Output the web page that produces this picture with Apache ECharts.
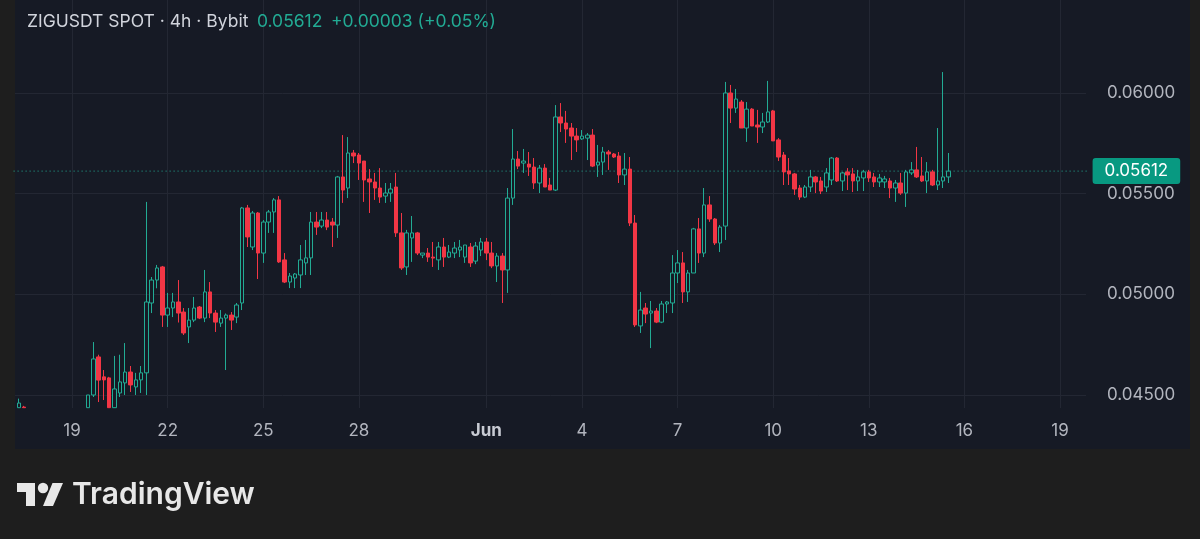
<!DOCTYPE html>
<html>
<head>
<meta charset="utf-8">
<title>ZIGUSDT SPOT 4h</title>
<script src="https://cdn.jsdelivr.net/npm/echarts@6/dist/echarts.min.js"></script>
<style>
  html, body { margin: 0; padding: 0; background: #1e1e1e; }
  #chart { width: 1200px; height: 539px; }
</style>
</head>
<body>
<div id="chart"></div>
<script>
// 4h candles, slot 0 = 2025-05-17 00:00, first value below belongs to slot 2
const firstSlot = 2
const opens = [
  0.04437, 0.04440, null, null, null, null, null, null, null, null, null, null, null,
  0.04437, 0.04500, 0.04689, 0.04590, 0.04585, 0.04437, 0.04510, 0.04560, 0.04614, 0.04540,
  0.04575, 0.04610, 0.04957, 0.05071, 0.05136, 0.04897, 0.04932, 0.04962, 0.04912, 0.04838,
  0.04872, 0.04937, 0.04882, 0.05012, 0.04907, 0.04857, 0.04882, 0.04897, 0.04887, 0.04957,
  0.05429, 0.05235, 0.05404, 0.05205, 0.05359, 0.05409, 0.05469, 0.05171, 0.05061, 0.05081,
  0.05096, 0.05156, 0.05181, 0.05359, 0.05339, 0.05369, 0.05359, 0.05344, 0.05583, 0.05528,
  0.05702, 0.05692, 0.05662, 0.05573, 0.05558, 0.05528, 0.05488, 0.05503, 0.05533, 0.05305,
  0.05136, 0.05280, 0.05305, 0.05195, 0.05205, 0.05185, 0.05171, 0.05235, 0.05185, 0.05205,
  0.05220, 0.05185, 0.05235, 0.05165, 0.05220, 0.05260, 0.05205, 0.05141, 0.05190, 0.05121,
  0.05478, 0.05672, 0.05652, 0.05647, 0.05632, 0.05553, 0.05627, 0.05543, 0.05518, 0.05881,
  0.05851, 0.05826, 0.05786, 0.05772, 0.05776, 0.05791, 0.05642, 0.05657, 0.05707, 0.05697,
  0.05687, 0.05593, 0.05622, 0.05354, 0.04843, 0.04932, 0.04907, 0.04917, 0.04862, 0.04952,
  0.04957, 0.05106, 0.05156, 0.05012, 0.05106, 0.05325, 0.05205, 0.05444, 0.05374, 0.05255,
  0.05339, 0.06000, 0.05925, 0.05955, 0.05826, 0.05920, 0.05841, 0.05831, 0.05856, 0.05911,
  0.05767, 0.05692, 0.05613, 0.05598, 0.05528, 0.05483, 0.05533, 0.05583, 0.05563, 0.05533,
  0.05568, 0.05677, 0.05563, 0.05608, 0.05598, 0.05563, 0.05578, 0.05608, 0.05583, 0.05558,
  0.05558, 0.05563, 0.05528, 0.05553, 0.05503, 0.05603, 0.05618, 0.05588, 0.05563, 0.05608,
  0.05543, 0.05563, 0.05583
]
const highs = [
  0.04482, 0.04446, null, null, null, null, null, null, null, null, null, null, null,
  0.04500, 0.04763, 0.04700, 0.04624, 0.04590, 0.04694, 0.04700, 0.04758, 0.04644, 0.04610,
  0.04644, 0.05459, 0.05086, 0.05146, 0.05141, 0.05007, 0.05007, 0.05071, 0.04932, 0.04932,
  0.04987, 0.04942, 0.05121, 0.05061, 0.04922, 0.04922, 0.04905, 0.04912, 0.04957, 0.05434,
  0.05444, 0.05414, 0.05409, 0.05369, 0.05419, 0.05478, 0.05488, 0.05205, 0.05106, 0.05106,
  0.05245, 0.05270, 0.05409, 0.05409, 0.05409, 0.05409, 0.05379, 0.05588, 0.05791, 0.05781,
  0.05717, 0.05702, 0.05662, 0.05622, 0.05603, 0.05627, 0.05553, 0.05553, 0.05603, 0.05404,
  0.05320, 0.05389, 0.05310, 0.05205, 0.05230, 0.05260, 0.05260, 0.05280, 0.05245, 0.05260,
  0.05270, 0.05245, 0.05255, 0.05260, 0.05280, 0.05280, 0.05260, 0.05205, 0.05205, 0.05528,
  0.05821, 0.05712, 0.05722, 0.05707, 0.05677, 0.05642, 0.05647, 0.05578, 0.05940, 0.05950,
  0.05911, 0.05851, 0.05826, 0.05816, 0.05801, 0.05821, 0.05742, 0.05732, 0.05717, 0.05702,
  0.05707, 0.05702, 0.05682, 0.05394, 0.05012, 0.04957, 0.04967, 0.04932, 0.04967, 0.04967,
  0.05195, 0.05220, 0.05210, 0.05121, 0.05330, 0.05379, 0.05528, 0.05488, 0.05379, 0.05344,
  0.06055, 0.06040, 0.06020, 0.05965, 0.05955, 0.05925, 0.05916, 0.05901, 0.06060, 0.05916,
  0.05776, 0.05707, 0.05677, 0.05603, 0.05543, 0.05543, 0.05618, 0.05588, 0.05583, 0.05627,
  0.05682, 0.05682, 0.05608, 0.05627, 0.05627, 0.05618, 0.05618, 0.05618, 0.05603, 0.05598,
  0.05588, 0.05578, 0.05568, 0.05603, 0.05618, 0.05657, 0.05732, 0.05682, 0.05657, 0.05618,
  0.05826, 0.06104, 0.05702
]
const lows = [
  0.04436, 0.04436, null, null, null, null, null, null, null, null, null, null, null,
  0.04436, 0.04490, 0.04465, 0.04475, 0.04436, 0.04436, 0.04490, 0.04500, 0.04515, 0.04500,
  0.04510, 0.04500, 0.04907, 0.05030, 0.04838, 0.04838, 0.04887, 0.04860, 0.04798, 0.04758,
  0.04862, 0.04877, 0.04862, 0.04882, 0.04813, 0.04838, 0.04624, 0.04823, 0.04857, 0.04922,
  0.05235, 0.05220, 0.05076, 0.05156, 0.05305, 0.05305, 0.05156, 0.05056, 0.05031, 0.05031,
  0.05031, 0.05096, 0.05096, 0.05295, 0.05329, 0.05319, 0.05235, 0.05280, 0.05454, 0.05478,
  0.05652, 0.05568, 0.05459, 0.05404, 0.05469, 0.05454, 0.05454, 0.05459, 0.05285, 0.05121,
  0.05096, 0.05161, 0.05195, 0.05180, 0.05161, 0.05136, 0.05121, 0.05136, 0.05180, 0.05180,
  0.05185, 0.05156, 0.05136, 0.05150, 0.05190, 0.05170, 0.05130, 0.05061, 0.04957, 0.05007,
  0.05444, 0.05622, 0.05603, 0.05588, 0.05523, 0.05503, 0.05533, 0.05518, 0.05513, 0.05806,
  0.05752, 0.05667, 0.05707, 0.05767, 0.05667, 0.05632, 0.05583, 0.05593, 0.05618, 0.05677,
  0.05553, 0.05543, 0.05339, 0.04838, 0.04808, 0.04857, 0.04733, 0.04857, 0.04857, 0.04907,
  0.04907, 0.05056, 0.04957, 0.04962, 0.05106, 0.05156, 0.05185, 0.05360, 0.05245, 0.05210,
  0.05270, 0.05851, 0.05901, 0.05826, 0.05757, 0.05836, 0.05752, 0.05801, 0.05851, 0.05762,
  0.05662, 0.05543, 0.05543, 0.05494, 0.05469, 0.05478, 0.05508, 0.05503, 0.05498, 0.05508,
  0.05543, 0.05558, 0.05513, 0.05518, 0.05508, 0.05513, 0.05513, 0.05558, 0.05533, 0.05533,
  0.05528, 0.05478, 0.05459, 0.05494, 0.05434, 0.05593, 0.05578, 0.05558, 0.05503, 0.05538,
  0.05518, 0.05528, 0.05553
]
const closes = [
  0.04460, 0.04437, null, null, null, null, null, null, null, null, null, null, null,
  0.04500, 0.04679, 0.04574, 0.04575, 0.04437, 0.04530, 0.04565, 0.04614, 0.04550, 0.04575,
  0.04610, 0.04962, 0.05071, 0.05131, 0.04897, 0.04932, 0.04962, 0.04907, 0.04808, 0.04872,
  0.04932, 0.04882, 0.05012, 0.04907, 0.04862, 0.04882, 0.04897, 0.04872, 0.04947, 0.05429,
  0.05285, 0.05404, 0.05205, 0.05359, 0.05409, 0.05469, 0.05161, 0.05061, 0.05091, 0.05101,
  0.05171, 0.05181, 0.05359, 0.05334, 0.05369, 0.05334, 0.05344, 0.05583, 0.05518, 0.05702,
  0.05687, 0.05652, 0.05568, 0.05558, 0.05528, 0.05483, 0.05503, 0.05523, 0.05305, 0.05131,
  0.05305, 0.05305, 0.05205, 0.05205, 0.05185, 0.05180, 0.05235, 0.05185, 0.05210, 0.05230,
  0.05235, 0.05245, 0.05156, 0.05240, 0.05260, 0.05205, 0.05141, 0.05190, 0.05121, 0.05478,
  0.05672, 0.05637, 0.05662, 0.05632, 0.05553, 0.05627, 0.05533, 0.05518, 0.05881, 0.05851,
  0.05821, 0.05786, 0.05767, 0.05786, 0.05791, 0.05637, 0.05657, 0.05707, 0.05697, 0.05682,
  0.05593, 0.05622, 0.05354, 0.04848, 0.04922, 0.04902, 0.04917, 0.04862, 0.04952, 0.04962,
  0.05106, 0.05156, 0.05012, 0.05106, 0.05325, 0.05205, 0.05444, 0.05374, 0.05255, 0.05334,
  0.06000, 0.05925, 0.05970, 0.05826, 0.05920, 0.05836, 0.05831, 0.05856, 0.05906, 0.05762,
  0.05682, 0.05608, 0.05598, 0.05523, 0.05483, 0.05533, 0.05583, 0.05558, 0.05513, 0.05603,
  0.05677, 0.05563, 0.05603, 0.05593, 0.05563, 0.05583, 0.05608, 0.05578, 0.05558, 0.05578,
  0.05573, 0.05528, 0.05553, 0.05503, 0.05608, 0.05618, 0.05583, 0.05563, 0.05608, 0.05543,
  0.05563, 0.05583, 0.05612
]

// time scale labels (date of the 00:00 candle -> text)
const tickDates = ['05-19', '05-22', '05-25', '05-28', '06-01', '06-04', '06-07', '06-10', '06-13', '06-16', '06-19']
const tickLabels = ['19', '22', '25', '28', 'Jun', '4', '7', '10', '13', '16', '19']
const priceTicks = [0.045, 0.05, 0.055, 0.06]
const headerName = 'ZIGUSDT SPOT · 4h · Bybit'
const headerChange = '+0.00003 (+0.05%)'

const upColor = '#22ab94'
const downColor = '#f23645'
const paneBg = '#161a25'
const gridColor = '#232733'
const textColor = '#b2b5be'
const logoColor = '#e8e8e8'
const font = 'Inter, Roboto, sans-serif'

// category axis: slots 1 .. 203 (May 17 04:00 -> Jun 20 00:00)
const categories = []
for (let s = 1; s <= 203; s++) {
  const d = new Date(Date.UTC(2025, 4, 17) + s * 4 * 3600 * 1000)
  const mm = String(d.getUTCMonth() + 1).padStart(2, '0')
  const dd = String(d.getUTCDate()).padStart(2, '0')
  const hh = String(d.getUTCHours()).padStart(2, '0')
  categories.push(mm + '-' + dd + ' ' + hh + ':00')
}
const tickOf = {}
tickDates.forEach((d, i) => { tickOf[d + ' 00:00'] = tickLabels[i] })
const isTick = (idx, value) => tickOf[value] !== undefined

const candles = categories.map((c, k) => {
  const j = k + 1 - firstSlot
  if (j < 0 || j >= opens.length || opens[j] == null) return ['-', '-', '-', '-']
  return [opens[j], closes[j], lows[j], highs[j]]
})
const lastClose = closes[closes.length - 1]

const chart = echarts.init(document.getElementById('chart'))
chart.setOption({
  backgroundColor: '#1e1e1e',
  animation: false,
  textStyle: { fontFamily: font },
  title: {
    left: 22, top: 8,
    text: '{a|' + headerName + '}  {g|' + lastClose.toFixed(5) + '}  {g|' + headerChange + '}',
    textStyle: {
      rich: {
        a: { color: '#d1d4dc', fontSize: 17.5, fontWeight: 'normal', fontFamily: font },
        g: { color: upColor, fontSize: 17.5, fontWeight: 'normal', fontFamily: font }
      }
    }
  },
  graphic: [
    { type: 'rect', z: -10, shape: { x: 15, y: 0, width: 1175, height: 449 }, style: { fill: paneBg } },
    // TradingView logo mark
    {
      type: 'polygon', z: 10,
      shape: { points: [[35, 506], [26, 506], [26, 492], [17, 492], [17, 483], [35, 483]] },
      style: { fill: logoColor }
    },
    {
      type: 'polygon', z: 10,
      shape: { points: [[53, 506], [43, 506], [52.5, 483], [63, 483]] },
      style: { fill: logoColor }
    },
    { type: 'circle', z: 10, shape: { cx: 43, cy: 488, r: 5.2 }, style: { fill: logoColor } },
    {
      type: 'text', z: 10, x: 72, y: 495,
      style: { text: 'TradingView', fill: logoColor, font: '600 30px Inter, sans-serif', textVerticalAlign: 'middle' }
    }
  ],
  grid: [
    { left: 13.6, top: 0, width: 1073, height: 408 },
    { left: 15, top: 93, width: 1071, height: 302 }
  ],
  xAxis: [
    {
      type: 'category', gridIndex: 0, data: categories, boundaryGap: false,
      axisLine: { show: false }, axisTick: { show: false },
      axisLabel: {
        interval: isTick, margin: 14, color: textColor, fontSize: 17,
        formatter: (v) => tickOf[v] === 'Jun' ? '{b|Jun}' : tickOf[v],
        rich: { b: { fontWeight: 'bold', color: '#c8cbd3', fontSize: 17, fontFamily: font } }
      },
      splitLine: { show: true, interval: isTick, lineStyle: { color: gridColor, width: 1 } }
    },
    { type: 'value', gridIndex: 1, show: false, min: 0, max: 1 }
  ],
  yAxis: [
    { type: 'value', gridIndex: 0, min: 0.044354, max: 0.064619, show: false, splitLine: { show: false } },
    {
      type: 'value', gridIndex: 1, position: 'right',
      min: priceTicks[0], max: priceTicks[priceTicks.length - 1], interval: 0.005,
      axisLine: { show: false }, axisTick: { show: false },
      axisLabel: { color: textColor, fontSize: 17, margin: 21, formatter: (v) => v.toFixed(5) },
      splitLine: { lineStyle: { color: gridColor, width: 1 } }
    }
  ],
  series: [
    {
      type: 'candlestick',
      xAxisIndex: 0, yAxisIndex: 0,
      data: candles,
      barWidth: 4,
      clip: true,
      itemStyle: {
        color: paneBg, color0: downColor,
        borderColor: upColor, borderColor0: downColor, borderColorDoji: upColor,
        borderWidth: 1
      }
    },
    {
      // last price line with its label on the price scale
      type: 'line',
      xAxisIndex: 0, yAxisIndex: 0,
      data: categories.map(() => lastClose),
      showSymbol: false,
      silent: true,
      z: 1,
      lineStyle: { color: upColor, type: [1, 3], width: 1 },
      endLabel: {
        show: true, distance: 6,
        formatter: () => lastClose.toFixed(5),
        color: '#ffffff', backgroundColor: '#089981', fontSize: 17, fontFamily: font,
        padding: [5, 12, 4, 12], borderRadius: 3
      }
    }
  ]
})
</script>
</body>
</html>
